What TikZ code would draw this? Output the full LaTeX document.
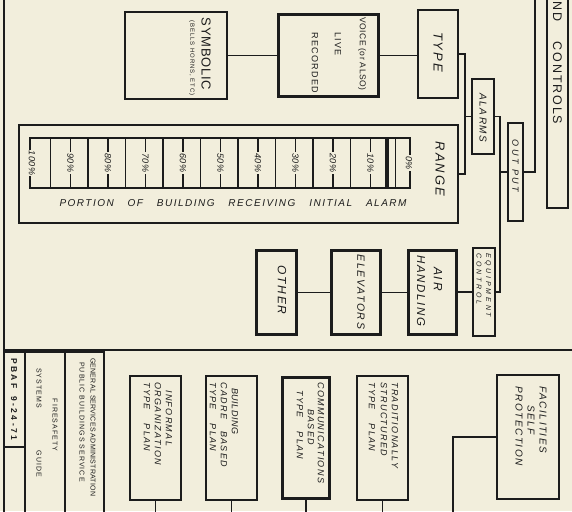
\documentclass[tikz,border=0pt]{standalone}
\usepackage{fontspec}
\setmainfont{Liberation Sans}
\newfontfamily\fa[LetterSpace=6]{Liberation Sans}
\newfontfamily\fb[LetterSpace=15]{Liberation Sans}
\newfontfamily\fc[LetterSpace=28]{Liberation Sans}
\newfontfamily\fd[LetterSpace=40]{Liberation Sans}
\newfontfamily\fe[LetterSpace=3]{Liberation Sans}
\newcommand\fsz[1]{\fontsize{#1}{#1}\selectfont}
\usetikzlibrary{fit}
\definecolor{paper}{RGB}{242,238,220}
\definecolor{ink}{RGB}{28,28,28}
\begin{document}
\begin{tikzpicture}[x=1pt,y=-1pt,
  ln/.style={draw=ink,line width=1.1pt},
  bx/.style={draw=ink,line width=1.1pt,inner sep=0pt,outer sep=0pt},
  tbx/.style={draw=ink,line width=3pt,inner sep=0pt,outer sep=0pt},
  rot/.style={rotate=-90,inner sep=0pt,text=ink},
  pct/.style={rot,fill=paper,inner sep=1pt,font=\fa\itshape\fsz{9}},
  pl/.style={rot,anchor=west,font=\fb\itshape\fsz{9}},
]
\useasboundingbox (0,0) rectangle (572,511);
\fill[paper] (0,0) rectangle (572,511);
\clip (0,0) rectangle (572,511);

% main frame lines
\coordinate (tl) at (4,-2); \coordinate (bl) at (4,513);
\draw[ink,line width=1.6pt] (tl) -- (bl);
\coordinate (hl) at (4,350); \coordinate (hr) at (574,350);
\draw[ink,line width=1.8pt] (hl) -- (hr);

% ---------- upper part ----------
\node[bx,fit={(125,12)(227,99)}] (sym) {};
\node[tbx,fit={(278.5,14.5)(378.5,96.5)}] (voice) {};
\node[bx,fit={(418,10)(458,98)}] (type) {};
\node[bx,fit={(472,79)(494,154)}] (alarms) {};
\node[bx,fit={(19,125)(458,223)}] (range) {};
\node[bx,fit={(508,123)(523,221)}] (output) {};
\node[bx,fit={(547,-20)(568,208)}] (ctrl) {};
\node[bx,fit={(473,248)(495,336)}] (eqc) {};
\node[tbx,fit={(408.5,250.5)(456.5,334.5)}] (air) {};
\node[tbx,fit={(331.5,250.5)(380.5,334.5)}] (elev) {};
\node[tbx,fit={(256.5,250.5)(296.5,334.5)}] (other) {};

% connectors upper
\draw[ln] (sym) -- (voice);
\draw[ln] (voice.east) -- (voice.east -| type.west);
\coordinate (j1) at (465,116.5);
\draw[ln] (type.east) -| (j1) |- (range.east);
\draw[ln] (alarms.west) -- (j1);
\coordinate (j2) at (500,116.5);
\draw[ln] (alarms.east) -- (j2) |- (eqc.east);
\draw[ln] (output.west) -- (output.west -| j2);
\coordinate (j3) at (535,-2);
\draw[ln] (output.east) -| (j3);
\draw[ln] (eqc.west) -- (eqc.west -| air.east);
\draw[ln] (air.west) -- (air.west -| elev.east);
\draw[ln] (elev.west) -- (elev.west -| other.east);

% range scale
\draw[ln] (30,138) rectangle (410,188);
\foreach \i in {0,...,8} \draw[ln] ({50.5+37.5*\i},138) -- ++(0,50);
\draw[ink,line width=1pt] (385,138) rectangle (395,188);
\draw[ink,line width=3pt] (387,138) -- (387,188);
\foreach \i in {1,...,9} \draw[ln] ({33+37.5*\i},138) -- ++(0,50);
\node[pct] (p0) at (32,163) {100\%};
\foreach \i/\pc in {1/90,2/80,3/70,4/60,5/50,6/40,7/30,8/20,9/10}
  \node[pct] (p\i) at ({33+37.5*\i},163) {\pc\%};
\node[pct] (p10) at (409,163) {0\%};
\node[font=\fb\itshape\fsz{10},text=ink,inner sep=0pt] (tport) at (233,203)
  {\makebox[347pt][s]{PORTION OF BUILDING RECEIVING INITIAL ALARM}};

% upper texts
\node[rot,font=\fa\fsz{13}] (tsym) at (206,54) {SYMBOLIC};
\node[rot,font=\fb\fsz{6}] (tsym2) at (192,58) {(BELLS HORNS, ETC)};
\node[rot,font=\fa\fsz{8.5},anchor=west] (tv1) at (362,17) {VOICE (or ALSO)};
\node[rot,font=\fb\fsz{9},anchor=west] (tv2) at (338,32) {LIVE};
\node[rot,font=\fb\fsz{9},anchor=west] (tv3) at (315,32) {RECORDED};
\node[rot,font=\fb\itshape\fsz{13}] (ttype) at (438,52) {TYPE};
\node[rot,font=\fb\itshape\fsz{13}] (trange) at (440,169) {RANGE};
\node[rot,font=\fb\itshape\fsz{10}] (talarms) at (483,118) {ALARMS};
\node[rot,font=\fc\itshape\fsz{9}] (tout) at (515.5,166) {OUT PUT};
\node[rot,font=\fb\fsz{12.5},anchor=west] (tctrl) at (557.5,1.5) {ND\hspace{20pt}CONTROLS};
\node[rot,font=\fb\itshape\fsz{12}] (tair1) at (438,279) {AIR};
\node[rot,font=\fb\itshape\fsz{11.5},anchor=west] (tair2) at (421,255) {HANDLING};
\node[rot,font=\fb\itshape\fsz{10.5}] (telev) at (361,292) {ELEVATORS};
\node[rot,font=\fb\itshape\fsz{12}] (tother) at (282,290) {OTHER};
\node[rot,font=\fd\itshape\fsz{7},anchor=west] (teq1) at (488,253) {EQUIPMENT};
\node[rot,font=\fd\itshape\fsz{7},anchor=west] (teq2) at (479,253) {CONTROL};

% ---------- lower part ----------
\node[bx,fit={(4,352)(25,520)}] (c1) {};
\node[bx,fit={(25,352)(65,520)}] (c2) {};
\node[bx,fit={(65,352)(104,520)}] (c3) {};
\draw[ln] (c1.west |- 0,447) -- (c1.east |- 0,447);
\draw[ink,line width=2.5pt] (c3.north east) -- (c3.south east);
\node[rot,font=\fc\bfseries\fsz{8.5},anchor=west] (tpbaf) at (14,358) {PBAF\hspace{8pt}9-24-71};
\node[rot,font=\fb\fsz{7}] (tfire) at (55,425) {FIRESAFETY};
\node[rot,font=\fb\fsz{7}] (tsys) at (39,388) {SYSTEMS};
\node[rot,font=\fb\fsz{7}] (tguide) at (39,464) {GUIDE};
\node[rot,font=\fe\fsz{7},anchor=west] (tgsa) at (93,358) {GENERAL SERVICES ADMINISTRATION};
\node[rot,font=\fb\fsz{7},anchor=west] (tpbs) at (82,362) {PUBLIC BUILDINGS SERVICE};

\node[bx,fit={(130,376)(181,500)}] (inf) {};
\node[bx,fit={(206,376)(257,500)}] (bld) {};
\node[tbx,fit={(282.5,377.5)(329.5,498.5)}] (com) {};
\node[bx,fit={(357,376)(408,500)}] (trad) {};
\node[bx,fit={(497,375)(559,499)}] (fac) {};

\node[pl] (i1) at (169,390) {INFORMAL};
\node[pl] (i2) at (158,382) {ORGANIZATION};
\node[pl] (i3) at (147,382) {TYPE\hspace{14pt}PLAN};
\node[pl,font=\fa\itshape\fsz{9}] (b1) at (235,388) {BUILDING};
\node[pl] (b2) at (224,382) {CADRE\hspace{12pt}BASED};
\node[pl] (b3) at (213,382) {TYPE\hspace{14pt}PLAN};
\node[pl] (m1) at (321,382) {COMMUNICATIONS};
\node[pl] (m2) at (311,409) {BASED};
\node[pl] (m3) at (300,390) {TYPE\hspace{14pt}PLAN};
\node[pl] (r1) at (395,382) {TRADITIONALLY};
\node[pl] (r2) at (384,382) {STRUCTURED};
\node[pl] (r3) at (372,382) {TYPE\hspace{14pt}PLAN};
\node[rot,font=\fb\itshape\fsz{10}] (f1) at (543,420) {FACILITIES};
\node[rot,font=\fb\itshape\fsz{10}] (f2) at (531,420) {SELF};
\node[rot,font=\fb\itshape\fsz{10}] (f3) at (519,426) {PROTECTION};

\coordinate (bot) at (0,513);
\foreach \n in {inf,bld,com,trad} \draw[ln] (\n.south) -- (\n.south |- bot);
\coordinate (fj) at (453,513);
\draw[ln] (fac.west) -| (fj);
\end{tikzpicture}
\end{document}
